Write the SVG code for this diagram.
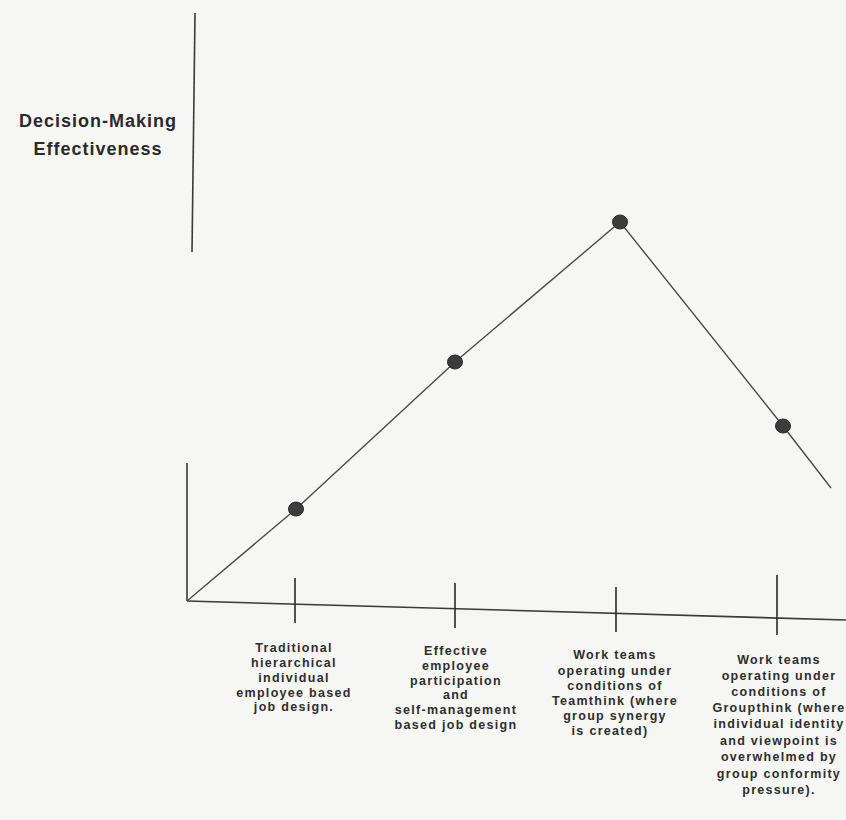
<svg xmlns="http://www.w3.org/2000/svg" width="846" height="820" viewBox="0 0 846 820">
<style>
.ax{stroke:#3a3a3a;stroke-width:1.6;fill:none}
.tk{stroke:#2a2a2a;stroke-width:1.6}
.cv{stroke:#4a4a4a;stroke-width:1.4;fill:none}
.dot{fill:#3c3c3c;stroke:#2a2a2a;stroke-width:1}
.ttl{font-family:"Liberation Sans",Arial,sans-serif;font-weight:bold;font-size:18px;letter-spacing:1px;fill:#2a2a2a;text-anchor:middle}
.lb{font-family:"Liberation Sans",Arial,sans-serif;font-weight:bold;font-size:12.5px;letter-spacing:1.3px;fill:#2e2e2e;text-anchor:middle}
</style>
<rect width="846" height="820" fill="#f6f6f4"/>
<g id="axes">
<line class="ax" x1="195" y1="13" x2="192" y2="252"/>
<line class="ax" x1="187" y1="463" x2="187" y2="601"/>
<line class="ax" x1="187" y1="601" x2="846" y2="620"/>
</g>
<g id="title">
<text class="ttl" x="98" y="127">Decision-Making</text>
<text class="ttl" x="98" y="155">Effectiveness</text>
</g>
<g id="connectors">
<polyline class="cv" points="187,601 296,509 455,362 620,222 783,426 831,488"/>
</g>
<g id="ticks">
<line class="tk" x1="295" y1="578" x2="295" y2="623"/>
<line class="tk" x1="455" y1="583" x2="455" y2="628"/>
<line class="tk" x1="616" y1="587" x2="616" y2="632"/>
<line class="tk" x1="777" y1="575" x2="777" y2="635"/>
</g>
<g id="point1"><ellipse class="dot" cx="296" cy="509" rx="7.5" ry="7"/></g>
<g id="point2"><ellipse class="dot" cx="455" cy="362" rx="7.5" ry="7"/></g>
<g id="point3"><ellipse class="dot" cx="620" cy="222" rx="7.5" ry="7"/></g>
<g id="point4"><ellipse class="dot" cx="783" cy="426" rx="7.5" ry="7"/></g>
<g id="label1">
<text class="lb" x="294" y="652">Traditional</text>
<text class="lb" x="294" y="667">hierarchical</text>
<text class="lb" x="294" y="682">individual</text>
<text class="lb" x="294" y="697">employee based</text>
<text class="lb" x="294" y="711">job design.</text>
</g>
<g id="label2">
<text class="lb" x="456" y="655">Effective</text>
<text class="lb" x="456" y="670">employee</text>
<text class="lb" x="456" y="685">participation</text>
<text class="lb" x="456" y="699">and</text>
<text class="lb" x="456" y="714">self-management</text>
<text class="lb" x="456" y="729">based job design</text>
</g>
<g id="label3">
<text class="lb" x="615" y="659">Work teams</text>
<text class="lb" x="615" y="675">operating under</text>
<text class="lb" x="615" y="690">conditions of</text>
<text class="lb" x="615" y="705">Teamthink (where</text>
<text class="lb" x="615" y="720">group synergy</text>
<text class="lb" x="610" y="735">is created)</text>
</g>
<g id="label4">
<text class="lb" x="779" y="664">Work teams</text>
<text class="lb" x="779" y="680">operating under</text>
<text class="lb" x="779" y="696">conditions of</text>
<text class="lb" x="779" y="712">Groupthink (where</text>
<text class="lb" x="779" y="728">individual identity</text>
<text class="lb" x="779" y="745">and viewpoint is</text>
<text class="lb" x="779" y="761">overwhelmed by</text>
<text class="lb" x="779" y="778">group conformity</text>
<text class="lb" x="779" y="794">pressure).</text>
</g>
</svg>
